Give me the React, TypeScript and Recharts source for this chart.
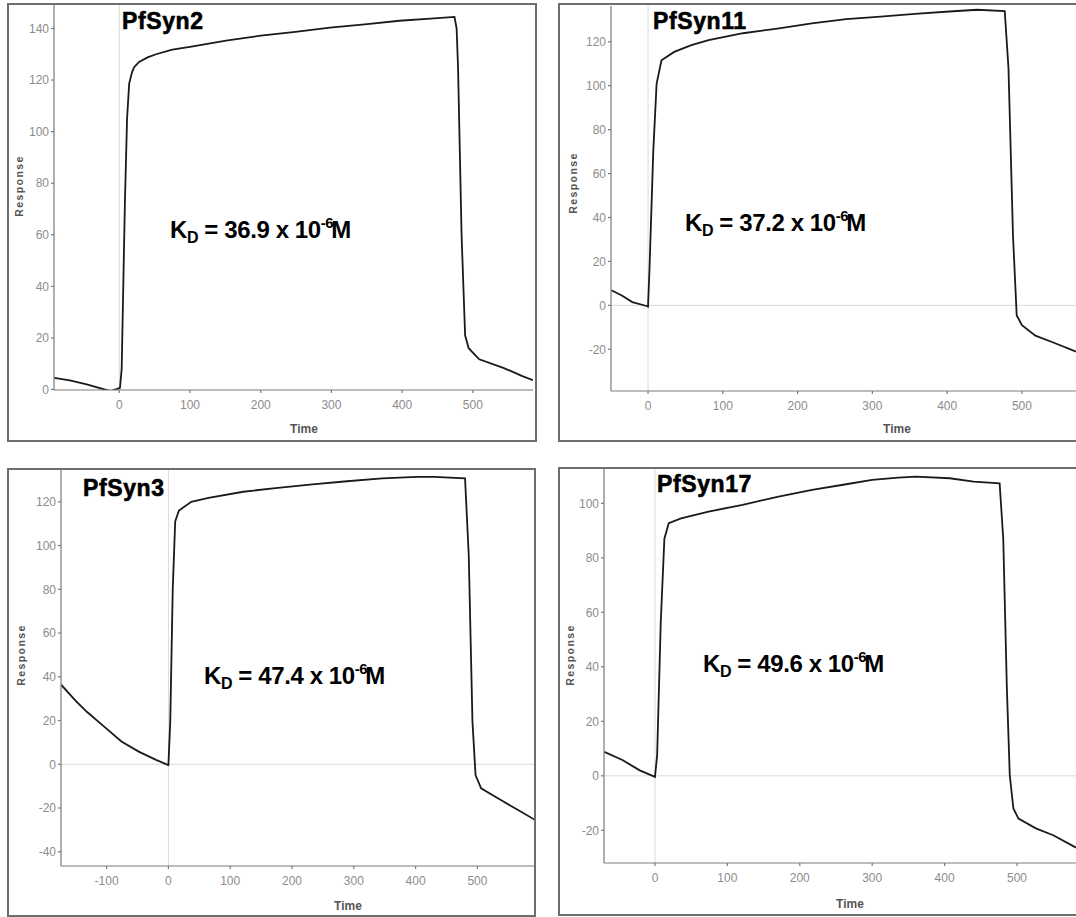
import React from "react";
import { Line, LineChart, ReferenceLine, XAxis, YAxis } from "recharts";

// PfSyn2 sensorgram (time in s, response in RU)
const syn2Time = [-92, -70, -46, -21, -12, -3, 1, 3.4, 6, 8, 11, 14, 18, 21, 28, 40, 52, 75, 102, 151, 200, 249, 298, 347, 396, 445, 474, 477, 479, 484, 489, 494, 509, 543, 570, 585];
const syn2Resp = [4.5, 3.5, 2, 0, -0.6, 0.2, 0.6, 8, 45, 73, 105, 118.6, 123, 125, 127, 128.8, 130, 131.8, 133, 135.3, 137.2, 138.7, 140.3, 141.6, 143, 143.9, 144.5, 140, 125, 60, 21, 16, 11.7, 8.4, 5.2, 3.6];

// PfSyn11
const syn11Time = [-49, -35, -21, -2, 0, 2, 7, 11.5, 18, 35, 58, 81, 127, 173, 219, 265, 311, 357, 403, 440, 477, 482, 488, 493, 500, 518, 541, 569, 586];
const syn11Resp = [6.9, 4.5, 1.5, -0.3, -0.6, 16.8, 70, 101, 111.6, 115.4, 118.5, 120.8, 123.9, 126, 128.4, 130.3, 131.5, 132.7, 133.8, 134.6, 134, 108, 32, -4.6, -9, -13.8, -16.8, -20.6, -23];

// PfSyn3
const syn3Time = [-174, -150, -132, -104, -76, -48, -20, -3, 0, 3, 7, 11, 17, 37, 65, 121, 177, 233, 289, 346, 402, 430, 480, 486, 492, 497, 506, 542, 570, 593];
const syn3Resp = [36.5, 29, 24, 17.2, 10.4, 5.8, 2, 0, -0.3, 19.5, 80, 111, 116, 120, 121.8, 124.6, 126.4, 128, 129.4, 130.7, 131.4, 131.4, 130.7, 95.6, 19.5, -4.9, -11, -17, -21.6, -25.4];

// PfSyn17
const syn17Time = [-70, -45, -21, 0, 3, 8, 13, 19, 36, 74, 121, 169, 217, 264, 300, 336, 360, 407, 440, 476, 481, 486, 490, 495, 502, 526, 550, 579, 595];
const syn17Resp = [8.8, 5.8, 2, -0.4, 7.6, 56.5, 87, 92.7, 94.5, 97, 99.4, 102.4, 104.9, 107, 108.6, 109.4, 109.8, 109.2, 108, 107.3, 87, 32, 0.2, -12, -15.7, -19.3, -21.8, -26, -28];

const timeTicks = [0, 100, 200, 300, 400, 500];
const timeTicksWide = [-100, 0, 100, 200, 300, 400, 500];
const syn2YTicks = [0, 20, 40, 60, 80, 100, 120, 140];
const syn11YTicks = [-20, 0, 20, 40, 60, 80, 100, 120];
const syn3YTicks = [-40, -20, 0, 20, 40, 60, 80, 100, 120];
const syn17YTicks = [-20, 0, 20, 40, 60, 80, 100];

const titles = ["PfSyn2", "PfSyn11", "PfSyn3", "PfSyn17"];
const kdValues = ["36.9", "37.2", "47.4", "49.6"];

const toRows = (t: number[], r: number[]) => t.map((time, i) => ({ time, response: r[i] }));

const NARROW = '"Liberation Sans Narrow", "Arial Narrow", sans-serif';
const SANS = '"Liberation Sans", Arial, sans-serif';
const AXIS_COLOR = "#7a7a7a";
const TICK = { fontSize: 12, fill: "#8c8c8c", fontFamily: NARROW };

type Box = { x: number; y: number; w: number; h: number };
type Plot = { l: number; t: number; r: number; b: number };

const PANELS = [
  {
    data: toRows(syn2Time, syn2Resp),
    xTicks: timeTicks,
    yTicks: syn2YTicks,
    xDomain: [-92.3, 585],
    yDomain: [-0.2, 149.1],
    frame: { x: 7, y: 3, w: 530, h: 439 },
    plot: { l: 54, t: 5, r: 533, b: 390 },
    zeroLine: false,
    title: { x: 122, y: 29 },
    kd: { x: 170, y: 238 },
    ylabel: { x: 19, y: 186 },
    xlabel: { x: 304, y: 433 },
  },
  {
    data: toRows(syn11Time, syn11Resp),
    xTicks: timeTicks,
    yTicks: syn11YTicks,
    xDomain: [-49.5, 591],
    yDomain: [-39, 136.3],
    frame: { x: 558, y: 3, w: 540, h: 439 },
    plot: { l: 611, t: 6, r: 1090, b: 391 },
    zeroLine: true,
    title: { x: 653, y: 29 },
    kd: { x: 685, y: 231 },
    ylabel: { x: 573, y: 183 },
    xlabel: { x: 897, y: 433 },
  },
  {
    data: toRows(syn3Time, syn3Resp),
    xTicks: timeTicksWide,
    yTicks: syn3YTicks,
    xDomain: [-173.8, 593.2],
    yDomain: [-46.5, 135],
    frame: { x: 7, y: 468, w: 529, h: 449 },
    plot: { l: 61, t: 469, r: 535, b: 866 },
    zeroLine: true,
    title: { x: 83, y: 496 },
    kd: { x: 204, y: 684 },
    ylabel: { x: 21, y: 655 },
    xlabel: { x: 348, y: 910 },
  },
  {
    data: toRows(syn17Time, syn17Resp),
    xTicks: timeTicks,
    yTicks: syn17YTicks,
    xDomain: [-70.4, 600.8],
    yDomain: [-32, 112.6],
    frame: { x: 558, y: 467, w: 540, h: 449 },
    plot: { l: 604, t: 469, r: 1090, b: 863 },
    zeroLine: true,
    title: { x: 657, y: 492 },
    kd: { x: 703, y: 672 },
    ylabel: { x: 570, y: 655 },
    xlabel: { x: 850, y: 908 },
  },
];

function Sensorgram({ p }: { p: (typeof PANELS)[number] }) {
  const f: Box = p.frame;
  const pl: Plot = p.plot;
  return (
    <>
      <div style={{ position: "absolute", left: f.x, top: f.y }}>
        <LineChart
          width={f.w}
          height={f.h}
          data={p.data}
          margin={{ top: pl.t - f.y, right: f.x + f.w - pl.r, left: 0, bottom: 0 }}
        >
          <XAxis
            type="number"
            dataKey="time"
            domain={p.xDomain}
            ticks={p.xTicks}
            interval={0}
            allowDataOverflow
            height={f.y + f.h - pl.b}
            tick={TICK}
            tickSize={3}
            tickMargin={7}
            stroke={AXIS_COLOR}
            strokeWidth={1.2}
          />
          <YAxis
            type="number"
            domain={p.yDomain}
            ticks={p.yTicks}
            interval={0}
            allowDataOverflow
            width={pl.l - f.x}
            tick={TICK}
            tickSize={3}
            tickMargin={2}
            stroke={AXIS_COLOR}
            strokeWidth={1.2}
          />
          <ReferenceLine x={0} stroke="#dadada" strokeWidth={1} />
          {p.zeroLine && <ReferenceLine y={0} stroke="#dadada" strokeWidth={1} />}
          <Line
            type="linear"
            dataKey="response"
            stroke="#1a1a1a"
            strokeWidth={1.8}
            dot={false}
            isAnimationActive={false}
          />
        </LineChart>
      </div>
      <div
        style={{
          position: "absolute",
          left: f.x,
          top: f.y,
          width: f.w,
          height: f.h,
          boxSizing: "border-box",
          border: "2px solid #6e6e6e",
          pointerEvents: "none",
        }}
      />
    </>
  );
}

export default function App() {
  return (
    <div
      style={{
        position: "absolute",
        left: 0,
        top: 0,
        width: 1076,
        height: 917,
        overflow: "hidden",
        background: "#fff",
      }}
    >
      {PANELS.map((p, i) => (
        <Sensorgram key={titles[i]} p={p} />
      ))}
      <svg
        width={1076}
        height={917}
        style={{ position: "absolute", left: 0, top: 0, pointerEvents: "none" }}
      >
        {PANELS.map((p, i) => (
          <g key={titles[i]} fontFamily={SANS}>
            <text
              x={p.title.x}
              y={p.title.y}
              fontSize={23}
              fontWeight="bold"
              letterSpacing={0.6}
              fill="#000"
              stroke="#000"
              strokeWidth={0.6}
            >
              {titles[i]}
            </text>
            <text x={p.kd.x} y={p.kd.y} fontSize={24} fontWeight="bold" fill="#000" letterSpacing={-0.4}>
              K
              <tspan fontSize={16} dy={5}>D</tspan>
              <tspan dy={-5}> = {kdValues[i]} x 10</tspan>
              <tspan fontSize={15} dy={-10}>-6</tspan>
              <tspan dy={10} dx={-2}>M</tspan>
            </text>
            <text
              x={p.ylabel.x}
              y={p.ylabel.y}
              transform={`rotate(-90 ${p.ylabel.x} ${p.ylabel.y})`}
              textAnchor="middle"
              dominantBaseline="central"
              fontSize={10.5}
              fontWeight="bold"
              letterSpacing={1.4}
              fill="#555"
            >
              Response
            </text>
            <text
              x={p.xlabel.x}
              y={p.xlabel.y}
              textAnchor="middle"
              fontSize={12}
              fontWeight="bold"
              fontFamily={NARROW}
              fill="#555"
            >
              Time
            </text>
          </g>
        ))}
      </svg>
    </div>
  );
}
